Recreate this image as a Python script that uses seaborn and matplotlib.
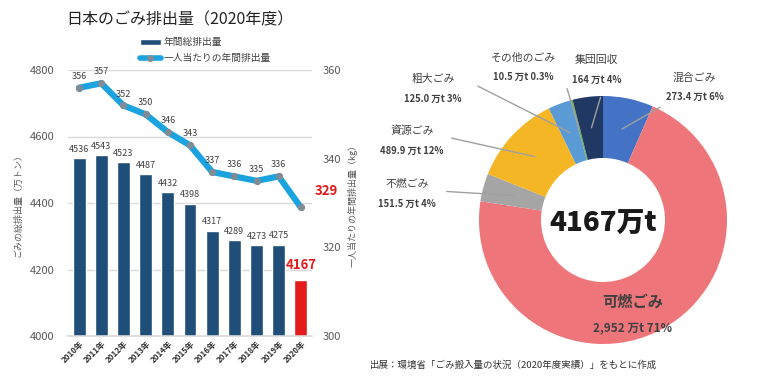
import numpy as np
import matplotlib
matplotlib.use('Agg')
import matplotlib.pyplot as plt
from matplotlib.patches import Patch
from matplotlib.lines import Line2D
import seaborn as sns

# Data
years = ['2010年', '2011年', '2012年', '2013年', '2014年', '2015年',
         '2016年', '2017年', '2018年', '2019年', '2020年']
total_waste = [4536, 4543, 4523, 4487, 4432, 4398, 4317, 4289, 4273, 4275, 4167]
per_capita = [356, 357, 352, 350, 346, 343, 337, 336, 335, 336, 329]

categories = ['混合ごみ', '可燃ごみ', '不燃ごみ', '資源ごみ', '粗大ごみ', 'その他のごみ', '集団回収']
amounts = [273.4, 2952, 151.5, 489.9, 125.0, 10.5, 164]
amount_text = ['273.4', '2,952', '151.5', '489.9', '125.0', '10.5', '164']
shares = ['6%', '71%', '4%', '12%', '3%', '0.3%', '4%']

sns.set_theme(style='white')
plt.rcParams['font.family'] = ['Noto Sans CJK JP', 'DejaVu Sans']

navy = '#1f4e79'
red = '#e41a1c'
line_blue = '#1ba3e0'
grey_txt = '#595959'
dark_txt = '#404040'

fig = plt.figure(figsize=(7.68, 3.76), dpi=100)

# ---- left: bar + line chart ----
ax = fig.add_axes([68 / 768, 40 / 376, 244 / 768, 266 / 376])
bar_colors = [navy] * (len(years) - 1) + [red]
sns.barplot(x=years, y=total_waste, hue=years, palette=bar_colors,
            legend=False, width=0.58, ax=ax, saturation=1)
ax.set_ylim(4000, 4800)
ax.set_xlim(-0.5, len(years) - 0.5)
ax.set_yticks([4000, 4200, 4400, 4600, 4800])
ax.yaxis.grid(True, color='#d9d9d9', linewidth=1)
ax.set_axisbelow(True)
for s in ['top', 'right', 'left']:
    ax.spines[s].set_visible(False)
ax.spines['bottom'].set_color('#d9d9d9')
ax.spines['bottom'].set_linewidth(1.2)
ax.tick_params(axis='y', labelsize=8, colors=grey_txt, pad=10, length=0)
ax.tick_params(axis='x', length=0, pad=2)
plt.setp(ax.get_xticklabels(), rotation=45, ha='right', rotation_mode='anchor',
         fontsize=5.8, fontweight='bold', color='#333333')
ax.set_ylabel('ごみの総排出量（万トン）', fontsize=6.5, color=grey_txt, labelpad=5)

for i, v in enumerate(total_waste):
    if i == len(total_waste) - 1:
        ax.annotate(str(v), (i, v), xytext=(0, 6), textcoords='offset points',
                    ha='center', va='bottom', fontsize=9.5, fontweight='bold', color=red)
    else:
        ax.annotate(str(v), (i, v), xytext=(0, 3), textcoords='offset points',
                    ha='center', va='bottom', fontsize=6.5, color=dark_txt)

ax2 = ax.twinx()
sns.lineplot(x=np.arange(len(years)), y=per_capita, ax=ax2, color=line_blue,
             linewidth=4.5, marker='o', markersize=4.5, markerfacecolor='#7f8c96',
             markeredgecolor='#7f8c96')
ax2.set_ylim(300, 360)
ax2.set_yticks([300, 320, 340, 360])
for s in ['top', 'right', 'left', 'bottom']:
    ax2.spines[s].set_visible(False)
ax2.tick_params(axis='y', labelsize=8, colors=grey_txt, pad=8, length=0)
ax2.set_ylabel('一人当たりの年間排出量（kg）', fontsize=6.5, color=grey_txt, labelpad=4)
for i, v in enumerate(per_capita):
    if i == len(per_capita) - 1:
        ax2.annotate(str(v), (i, v), xytext=(18, 7), textcoords='offset points',
                     ha='center', va='bottom', fontsize=9.5, fontweight='bold', color=red)
    else:
        ax2.annotate(str(v), (i, v), xytext=(0, 5), textcoords='offset points',
                     ha='center', va='bottom', fontsize=6.5, color=dark_txt)

fig.text(180 / 768, 1 - 20 / 376, '日本のごみ排出量（2020年度）', ha='center', va='center',
         fontsize=11.5, color='#222222')
handles = [Patch(facecolor=navy, label='年間総排出量'),
           Line2D([0], [0], color=line_blue, linewidth=4, marker='o', markersize=4,
                  markerfacecolor='#7f8c96', markeredgecolor='#7f8c96',
                  label='一人当たりの年間排出量')]
fig.legend(handles=handles, loc='center', bbox_to_anchor=(205 / 768, 1 - 50 / 376),
           frameon=False, fontsize=7, handlelength=2.2, handleheight=0.6,
           labelspacing=0.6, handletextpad=0.2, labelcolor=dark_txt)

# ---- right: donut ----
pie_colors = ['#4472c4', '#ee767b', '#a5a5a5', '#f4b624', '#5b9bd5', '#70ad47', '#1f3864']
axp = fig.add_axes([(603 - 124) / 768, (376 - 220 - 124) / 376, 248 / 768, 248 / 376])
wedges, _ = axp.pie(amounts, colors=pie_colors, startangle=90, counterclock=False,
                    radius=1, wedgeprops=dict(width=0.5, linewidth=0))
axp.set_xlim(-1, 1)
axp.set_ylim(-1, 1)
axp.set_aspect('equal')

# label anchor positions (axes coords of donut, units of radius)
label_pos = [(0.74, 1.15), (0.24, -0.66), (-1.58, 0.29), (-1.54, 0.72),
             (-1.37, 1.14), (-0.64, 1.31), (-0.05, 1.29)]
for i, w in enumerate(wedges):
    mid = np.deg2rad((w.theta1 + w.theta2) / 2)
    sx, sy = 0.75 * np.cos(mid), 0.75 * np.sin(mid)
    lx, ly = label_pos[i]
    big = categories[i] == '可燃ごみ'
    axp.text(lx, ly, categories[i], ha='center', va='center',
             fontsize=11 if big else 7.8, fontweight='bold' if big else 'normal',
             color=dark_txt, clip_on=False)
    axp.text(lx, ly - (0.21 if big else 0.16), f'{amount_text[i]} 万t {shares[i]}',
             ha='center', va='center', fontsize=8.5 if big else 6.8,
             fontweight='bold', color=dark_txt, clip_on=False)
    if not big:
        if lx > 0.5:
            ex, ey = lx - 0.28, ly - 0.24
        elif lx > -0.2:
            ex, ey = lx + 0.03, ly - 0.3
        elif lx > -1.0:
            ex, ey = lx + 0.35, ly - 0.25
        elif ly > 0.9:
            ex, ey = lx + 0.36, ly - 0.06
        else:
            ex, ey = lx + 0.32, ly - 0.06
        axp.plot([sx, ex], [sy, ey], color='#a0a0a0', linewidth=1, clip_on=False)

axp.text(0, -0.03, '4167万t', ha='center', va='center', fontsize=20,
         fontweight='black', color='#1a1a1a')

fig.text(370 / 768, 1 - 365 / 376, '出展：環境省「ごみ搬入量の状況（2020年度実績）」をもとに作成',
         ha='left', va='center', fontsize=6.8, color='#333333')

fig.savefig('out.png', dpi=100)
